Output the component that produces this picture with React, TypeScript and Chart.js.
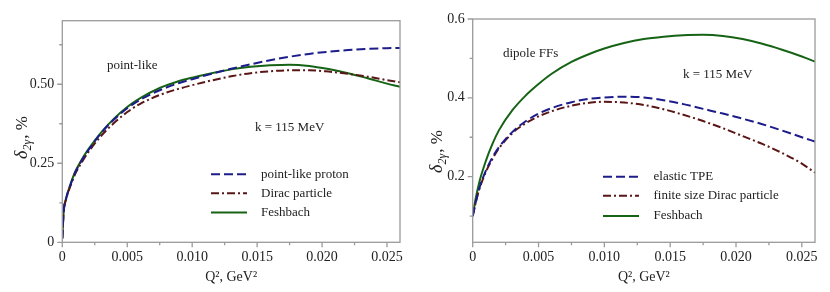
import React, { useEffect, useRef } from 'react';
import { Chart, registerables } from 'chart.js';

Chart.register(...registerables);

// ---------- data ----------
const q2Grid = [0, 0.0001, 0.0003, 0.0006, 0.001, 0.0015, 0.002, 0.003, 0.004, 0.005, 0.006, 0.0075, 0.009, 0.010, 0.0115, 0.013, 0.0145, 0.016, 0.0175, 0.019, 0.0205, 0.022, 0.0235, 0.025, 0.026];

// left panel: point-like
const pointLikeProton = [0.012, 0.094, 0.139, 0.178, 0.221, 0.259, 0.291, 0.346, 0.389, 0.424, 0.451, 0.481, 0.504, 0.516, 0.533, 0.549, 0.563, 0.576, 0.587, 0.596, 0.603, 0.608, 0.612, 0.614, 0.615];
const diracParticle = [0.012, 0.093, 0.137, 0.175, 0.217, 0.253, 0.285, 0.337, 0.378, 0.412, 0.438, 0.466, 0.486, 0.497, 0.512, 0.525, 0.535, 0.541, 0.544, 0.544, 0.540, 0.533, 0.524, 0.513, 0.506];
const feshbachLeft = [0.012, 0.095, 0.140, 0.180, 0.224, 0.262, 0.294, 0.348, 0.392, 0.428, 0.456, 0.488, 0.510, 0.521, 0.535, 0.547, 0.555, 0.560, 0.562, 0.558, 0.548, 0.535, 0.519, 0.502, 0.492];

// right panel: dipole FFs
const q2GridRight = [0, 0.0002, 0.0005, 0.001, 0.0015, 0.002, 0.003, 0.004, 0.005, 0.006, 0.0075, 0.009, 0.010, 0.0115, 0.013, 0.0145, 0.016, 0.0175, 0.019, 0.0205, 0.022, 0.0235, 0.025, 0.026];
const elasticTPE = [0.100, 0.130, 0.170, 0.215, 0.249, 0.275, 0.313, 0.340, 0.360, 0.374, 0.389, 0.398, 0.401, 0.403, 0.401, 0.394, 0.384, 0.372, 0.360, 0.347, 0.333, 0.317, 0.300, 0.289];
const finiteDirac = [0.100, 0.130, 0.168, 0.212, 0.245, 0.272, 0.310, 0.335, 0.353, 0.366, 0.380, 0.388, 0.390, 0.388, 0.382, 0.371, 0.357, 0.341, 0.323, 0.303, 0.283, 0.260, 0.233, 0.210];
const feshbachRight = [0.100, 0.140, 0.186, 0.240, 0.283, 0.318, 0.368, 0.405, 0.435, 0.461, 0.491, 0.513, 0.525, 0.539, 0.549, 0.555, 0.559, 0.560, 0.557, 0.549, 0.537, 0.522, 0.505, 0.492];

// ticks
const xMajorTicks = [0, 0.005, 0.010, 0.015, 0.020, 0.025];
const xTickLabels = ['0', '0.005', '0.010', '0.015', '0.020', '0.025'];
const xMinorTicks = [0.0025, 0.0075, 0.0125, 0.0175, 0.0225];
const yLeftMajor = [0, 0.25, 0.5];
const yLeftLabels = ['0', '0.25', '0.50'];
const yLeftMinor = [0.125, 0.375, 0.625];
const yRightMajor = [0.2, 0.4, 0.6];
const yRightLabels = ['0.2', '0.4', '0.6'];
const yRightMinor = [0.1, 0.3, 0.5];

const leftNames = ['point-like proton', 'Dirac particle', 'Feshbach'];
const rightNames = ['elastic TPE', 'finite size Dirac particle', 'Feshbach'];

// ---------- styles ----------
const BLUE = '#1c1c8a';
const RED = '#5a1616';
const GREEN = '#166316';
const FRAME = '#9a9a9a';
const TEXT = '#222222';
const SERIF = '"Liberation Serif", "DejaVu Serif", serif';

const styles = [
  { color: BLUE, dash: [9, 4] },
  { color: RED, dash: [8, 3, 2, 3] },
  { color: GREEN, dash: [] as number[] },
];

type PanelCfg = {
  q2: number[];
  series: number[][];
  names: string[];
  yMin: number;
  yMax: number;
  yMajor: number[];
  yLabels: string[];
  yMinor: number[];
  plotLeft: number;
  plotRight: number;
  plotTop: number;
  plotBottom: number;
  notes: { text: string; x: number; y: number }[];
  legend: { x0: number; x1: number; tx: number; ys: number[] };
  yTitleY: number;
};

const W = 415;
const H = 292;

const decorPlugin = {
  id: 'decor',
  afterDraw(chart: any) {
    const cfg: PanelCfg = chart.options.plugins.decor.cfg;
    const ctx = chart.ctx as CanvasRenderingContext2D;
    const a = chart.chartArea;
    const xs = chart.scales.x;
    const ys = chart.scales.y;
    ctx.save();
    // frame
    ctx.strokeStyle = FRAME;
    ctx.lineWidth = 1.3;
    ctx.strokeRect(a.left, a.top, a.right - a.left, a.bottom - a.top);
    // ticks
    ctx.beginPath();
    xMajorTicks.forEach((v) => {
      const p = xs.getPixelForValue(v);
      ctx.moveTo(p, a.bottom);
      ctx.lineTo(p, a.bottom + 5);
    });
    xMinorTicks.forEach((v) => {
      const p = xs.getPixelForValue(v);
      ctx.moveTo(p, a.bottom);
      ctx.lineTo(p, a.bottom + 3);
    });
    cfg.yMajor.forEach((v) => {
      const p = ys.getPixelForValue(v);
      ctx.moveTo(a.left, p);
      ctx.lineTo(a.left - 5, p);
    });
    cfg.yMinor.forEach((v) => {
      const p = ys.getPixelForValue(v);
      ctx.moveTo(a.left, p);
      ctx.lineTo(a.left - 3, p);
    });
    ctx.stroke();

    // annotations
    ctx.fillStyle = TEXT;
    ctx.font = `13px ${SERIF}`;
    ctx.textBaseline = 'middle';
    ctx.textAlign = 'left';
    cfg.notes.forEach((n) => ctx.fillText(n.text, n.x, n.y));

    // legend
    chart.data.datasets.forEach((ds: any, i: number) => {
      const y = cfg.legend.ys[i];
      ctx.save();
      ctx.strokeStyle = ds.borderColor;
      ctx.lineWidth = ds.borderWidth;
      ctx.setLineDash(ds.borderDash || []);
      ctx.beginPath();
      ctx.moveTo(cfg.legend.x0, y);
      ctx.lineTo(cfg.legend.x1, y);
      ctx.stroke();
      ctx.restore();
      ctx.fillStyle = TEXT;
      ctx.font = `13px ${SERIF}`;
      ctx.fillText(ds.label, cfg.legend.tx, y);
    });

    // x title
    ctx.textAlign = 'center';
    ctx.font = `14px ${SERIF}`;
    ctx.fillText('Q², GeV²', (a.left + a.right) / 2, 277);

    // y title (rotated)
    ctx.save();
    ctx.translate(21, cfg.yTitleY);
    ctx.rotate(-Math.PI / 2);
    const f1 = `italic 18px ${SERIF}`;
    const f2 = `italic 12px ${SERIF}`;
    const f3 = `17px ${SERIF}`;
    const p1 = 'δ';
    const p2 = '2γ';
    const p3 = ', %';
    ctx.font = f1;
    const w1 = ctx.measureText(p1).width;
    ctx.font = f2;
    const w2 = ctx.measureText(p2).width;
    ctx.font = f3;
    const w3 = ctx.measureText(p3).width;
    let x = -(w1 + w2 + w3) / 2;
    ctx.textAlign = 'left';
    ctx.textBaseline = 'alphabetic';
    ctx.font = f1;
    ctx.fillText(p1, x, 6);
    x += w1;
    ctx.font = f2;
    ctx.fillText(p2, x, 10);
    x += w2 + 1;
    ctx.font = f3;
    ctx.fillText(p3, x, 6);
    ctx.restore();

    ctx.restore();
  },
};

function Panel({ cfg, left }: { cfg: PanelCfg; left: number }) {
  const ref = useRef<HTMLCanvasElement>(null);
  useEffect(() => {
    if (!ref.current) return;
    const datasets = cfg.series.map((vals, i) => ({
      label: cfg.names[i],
      data: cfg.q2.map((q, j) => ({ x: q, y: vals[j] })),
      borderColor: styles[i].color,
      borderDash: styles[i].dash,
      borderWidth: 2,
      pointRadius: 0,
      fill: false,
      cubicInterpolationMode: 'monotone' as const,
    }));
    const chart = new Chart(ref.current, {
      type: 'line',
      data: { datasets: [datasets[0], datasets[1], datasets[2]] },
      options: {
        animation: false,
        responsive: false,
        devicePixelRatio: 1,
        events: [],
        layout: {
          padding: { left: 0, top: cfg.plotTop, right: W - cfg.plotRight, bottom: 0 },
        },
        plugins: {
          legend: { display: false },
          tooltip: { enabled: false },
          // @ts-ignore
          decor: { cfg },
        },
        scales: {
          x: {
            type: 'linear',
            min: 0,
            max: 0.026,
            grid: { display: false, drawTicks: false },
            border: { display: false },
            afterBuildTicks: (s: any) => {
              s.ticks = xMajorTicks.map((v) => ({ value: v }));
            },
            afterFit: (s: any) => {
              s.height = H - cfg.plotBottom;
            },
            ticks: {
              autoSkip: false,
              maxRotation: 0,
              padding: 7,
              color: TEXT,
              font: { family: SERIF, size: 14 },
              callback: (_v: any, i: number) => xTickLabels[i],
            },
          },
          y: {
            type: 'linear',
            min: cfg.yMin,
            max: cfg.yMax,
            grid: { display: false, drawTicks: false },
            border: { display: false },
            afterBuildTicks: (s: any) => {
              s.ticks = cfg.yMajor.map((v) => ({ value: v }));
            },
            afterFit: (s: any) => {
              s.width = cfg.plotLeft;
            },
            ticks: {
              autoSkip: false,
              padding: 8,
              color: TEXT,
              font: { family: SERIF, size: 14 },
              callback: (_v: any, i: number) => cfg.yLabels[i],
            },
          },
        },
      },
      plugins: [decorPlugin],
    });
    return () => chart.destroy();
  }, [cfg]);
  return (
    <canvas
      ref={ref}
      width={W}
      height={H}
      style={{ position: 'absolute', left, top: 0, width: W, height: H }}
    />
  );
}

const leftCfg: PanelCfg = {
  q2: q2Grid,
  series: [pointLikeProton, diracParticle, feshbachLeft],
  names: leftNames,
  yMin: 0,
  yMax: 0.701,
  yMajor: yLeftMajor,
  yLabels: yLeftLabels,
  yMinor: yLeftMinor,
  plotLeft: 62.3,
  plotRight: 400,
  plotTop: 20.7,
  plotBottom: 242.3,
  notes: [
    { text: 'point-like', x: 107, y: 66 },
    { text: 'k = 115 MeV', x: 255, y: 128 },
  ],
  legend: { x0: 211, x1: 247, tx: 261, ys: [174.3, 193.3, 212.5] },
  yTitleY: 138,
};

const rightCfg: PanelCfg = {
  q2: q2GridRight,
  series: [elasticTPE, finiteDirac, feshbachRight],
  names: rightNames,
  yMin: 0.0334,
  yMax: 0.6,
  yMajor: yRightMajor,
  yLabels: yRightLabels,
  yMinor: yRightMinor,
  plotLeft: 57.7,
  plotRight: 400,
  plotTop: 19,
  plotBottom: 242.3,
  notes: [
    { text: 'dipole FFs', x: 88, y: 54 },
    { text: 'k = 115 MeV', x: 268, y: 74.5 },
  ],
  legend: { x0: 188, x1: 224, tx: 238.5, ys: [176.7, 195.8, 216] },
  yTitleY: 152,
};

export default function App() {
  return (
    <div
      style={{
        position: 'fixed',
        left: 0,
        top: 0,
        width: 830,
        height: 292,
        background: '#ffffff',
        overflow: 'hidden',
      }}
    >
      <Panel cfg={leftCfg} left={0} />
      <Panel cfg={rightCfg} left={415} />
    </div>
  );
}
